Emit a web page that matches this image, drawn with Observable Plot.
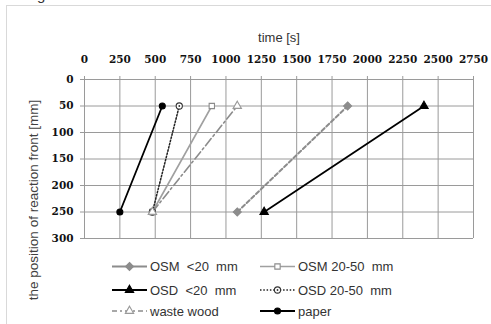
<!DOCTYPE html>
<html><head><meta charset="utf-8">
<script src="https://cdn.jsdelivr.net/npm/d3@7"></script>
<script src="https://cdn.jsdelivr.net/npm/@observablehq/plot@0.6"></script>
<style>
body{margin:0;background:#fff;}
#wrap{position:relative;width:491px;height:324px;overflow:hidden;background:#fff;}
#frame{position:absolute;left:6px;top:5px;width:500px;height:340px;border:1px solid #d9d9d9;}
#chart{position:absolute;left:0;top:0;}
#legend{position:absolute;left:0;top:245px;}
#cap{position:absolute;left:37px;top:-14px;font:15px "Liberation Sans",Arial,sans-serif;color:#333;}
</style></head>
<body>
<div id="wrap"><div id="frame"></div><div id="cap">g</div><div id="chart"></div><div id="legend"></div></div>
<script>
// data
const series = ["OSM <20 mm", "OSM 20-50 mm", "OSD <20 mm", "OSD 20-50 mm", "waste wood", "paper"];
const positions = [250, 50];              // position of reaction front [mm]
const timeAt250 = [1080, 480, 1270, 480, 480, 250];   // time [s] at 250 mm
const timeAt50 = [1860, 900, 2400, 670, 1080, 550];   // time [s] at 50 mm
const xTicks = [0, 250, 500, 750, 1000, 1250, 1500, 1750, 2000, 2250, 2500, 2750];
const yTicks = [0, 50, 100, 150, 200, 250, 300];

// styles
const styles = {
  "OSM <20 mm":   {stroke:"#8c8c8c", width:2, dash:"4,2.5", legendDash:null, symbol:"diamond2", fill:"#8c8c8c", mstroke:"#8c8c8c", r:3.6},
  "OSM 20-50 mm": {stroke:"#a0a0a0", width:1.6, dash:null, symbol:"square", fill:"#fff", mstroke:"#8c8c8c", r:3.4},
  "OSD <20 mm":   {stroke:"#000", width:1.8, dash:null, symbol:"triangle", fill:"#000", mstroke:"#000", r:3.1},
  "OSD 20-50 mm": {stroke:"#222", width:1.5, dash:"1.5,1.8", symbol:"circle", fill:"#fff", mstroke:"#333", r:3.1, center:true},
  "waste wood":   {stroke:"#8c8c8c", width:1.6, dash:"9,3,2,3", legendDash:"5,3,2,3", symbol:"triangle", fill:"#fff", mstroke:"#999", r:3.1},
  "paper":        {stroke:"#000", width:1.8, dash:null, symbol:"circle", fill:"#000", mstroke:"#000", r:3}
};

const rows = [];
series.forEach((s, i) => {
  rows.push({series: s, time: timeAt250[i], pos: positions[0]});
  rows.push({series: s, time: timeAt50[i], pos: positions[1]});
});

const tickFont = {fontFamily: "DejaVu Serif", fontWeight: "bold", fontSize: 10.5};

const marks = [
  Plot.gridX(xTicks, {stroke: "#9a9a9a", strokeOpacity: 1}),
  Plot.gridY(yTicks, {stroke: "#9a9a9a", strokeOpacity: 1}),
  Plot.axisX({ticks: xTicks, anchor: "top", tickSize: 4, tickPadding: 13, tickFormat: d3.format("d"), label: null, stroke: "#9a9a9a", fill: "#111", ...tickFont}),
  Plot.axisY({ticks: yTicks, anchor: "left", tickSize: 4, tickPadding: 7, tickFormat: d3.format("d"), label: null, stroke: "#9a9a9a", fill: "#111", ...tickFont}),
  Plot.text(["time [s]"], {frameAnchor: "top", dy: -47, fontSize: 13, fill: "#333", fontFamily: "Liberation Sans"})
];
series.forEach(s => {
  const st = styles[s];
  const d = rows.filter(r => r.series === s);
  marks.push(Plot.line(d, {x: "time", y: "pos", stroke: st.stroke, strokeWidth: st.width, strokeDasharray: st.dash || undefined}));
});
const symMap = {diamond2: d3.symbolDiamond2, square: d3.symbolSquare2, triangle: d3.symbolTriangle, circle: d3.symbolCircle};
series.forEach(s => {
  const st = styles[s];
  const d = rows.filter(r => r.series === s);
  marks.push(Plot.dot(d, {x: "time", y: "pos", symbol: symMap[st.symbol], r: st.r, fill: st.fill, stroke: st.mstroke, strokeWidth: 1.1}));
  if (st.center) marks.push(Plot.dot(d, {x: "time", y: "pos", r: 0.9, fill: "#333"}));
});

const chart = Plot.plot({
  width: 491, height: 245,
  marginLeft: 84, marginRight: 18, marginTop: 79, marginBottom: 7,
  style: {background: "transparent", overflow: "visible"},
  x: {domain: [0, 2750]},
  y: {domain: [0, 300], reverse: true},
  marks
});
document.getElementById("chart").appendChild(chart);

// y axis title (annotation)
d3.select(chart).append("text")
  .attr("transform", "translate(33,200) rotate(-90)")
  .attr("text-anchor", "middle").attr("dy", "0.35em")
  .attr("font-family", "Liberation Sans").attr("font-size", 13.5).attr("fill", "#404040")
  .text("the position of reaction front [mm]");

// legend
const lg = d3.select("#legend").append("svg").attr("width", 491).attr("height", 79);
const cols = [112, 260];
const rowsY = [21.5, 45, 66];
series.forEach((s, i) => {
  const st = styles[s];
  const x0 = cols[i % 2], y = rowsY[Math.floor(i / 2)];
  const g = lg.append("g");
  const ld = st.legendDash !== undefined ? st.legendDash : st.dash;
  g.append("line").attr("x1", x0).attr("x2", x0 + 35).attr("y1", y).attr("y2", y)
    .attr("stroke", st.stroke).attr("stroke-width", st.width).attr("stroke-dasharray", ld);
  const sym = symMap[st.symbol];
  const size = Math.PI * st.r * st.r;
  g.append("path").attr("transform", `translate(${x0 + 17.5},${y})`)
    .attr("d", d3.symbol(sym, size)())
    .attr("fill", st.fill).attr("stroke", st.mstroke).attr("stroke-width", 1.1);
  if (st.center) g.append("circle").attr("cx", x0 + 17.5).attr("cy", y).attr("r", 0.9).attr("fill", "#333");
  g.append("text").attr("x", x0 + 38).attr("y", y).attr("dy", "0.35em")
    .attr("font-family", "Liberation Sans").attr("font-size", 13).attr("fill", "#333")
    .attr("xml:space", "preserve").style("white-space", "pre")
    .text(s.replace(" <", "  <").replace(" mm", "  mm"));
});
</script>
</body></html>
